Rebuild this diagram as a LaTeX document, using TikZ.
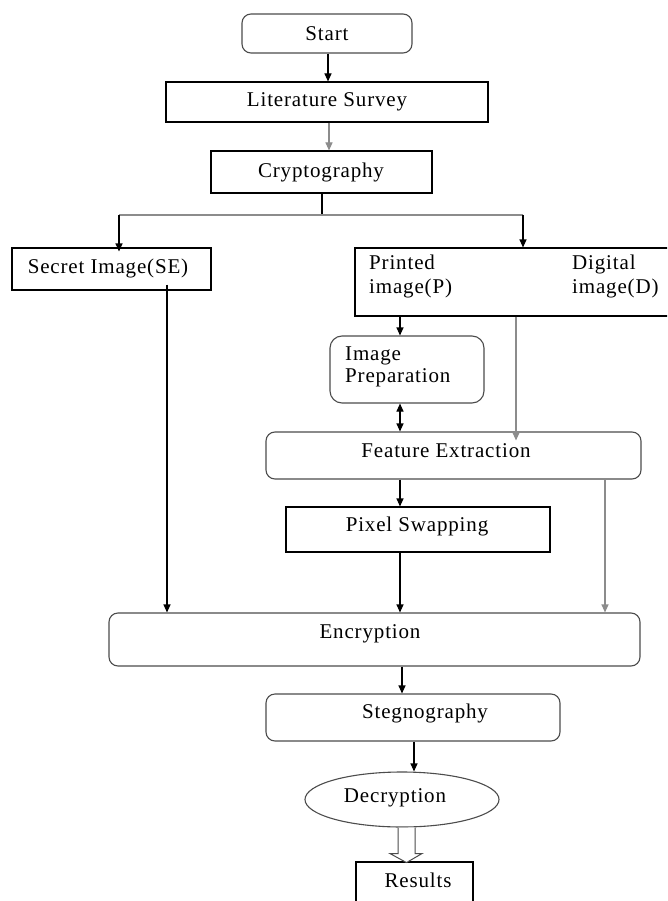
\documentclass[tikz,border=0pt]{standalone}
\usepackage{fontspec}
\setmainfont{Liberation Serif}[LetterSpace=4]
\usetikzlibrary{arrows.meta,shapes.geometric,calc}
\begin{document}
\begin{tikzpicture}[x=1pt,y=-1pt,
  font=\fontsize{21}{24}\selectfont,
  sbox/.style={draw=black, line width=1.1pt, inner sep=0pt},
  rbox/.style={draw=black!70, line width=1.1pt, inner sep=0pt, rounded corners=9pt},
  ebox/.style={draw=black!70, line width=1.1pt, inner sep=0pt, ellipse},
  lbl/.style={inner sep=0pt, anchor=center},
  lblw/.style={inner sep=0pt, anchor=west, align=left},
  arr/.style={-{Triangle[length=8pt,width=7pt]}, line width=1.1pt},
  garr/.style={arr, draw=black!45},
  darr/.style={{Triangle[length=8pt,width=7pt]}-{Triangle[length=8pt,width=7pt]}, line width=1.1pt},
  gline/.style={line width=1.1pt, draw=black!45},
  bline/.style={line width=1.1pt, draw=black},
  hollow/.style={line width=1pt, draw=black!70, fill=white}
]
\clip (0,0) rectangle (667,901);
\fill[white] (0,0) rectangle (667,901);

% boxes
\node[rbox, minimum width=170pt, minimum height=39pt] (start) at (327,33.5) {};
\node[sbox, minimum width=322pt, minimum height=40pt] (lit) at (327,102) {};
\node[sbox, minimum width=221pt, minimum height=42pt] (crypt) at (321.5,172) {};
\node[sbox, minimum width=199pt, minimum height=42pt] (secret) at (111.5,269) {};
\node[sbox, minimum width=325pt, minimum height=68pt] (printed) at (517.5,282) {};
\node[rbox, minimum width=154pt, minimum height=67pt, rounded corners=12pt] (prep) at (407,369.5) {};
\node[rbox, minimum width=375pt, minimum height=47pt] (feat) at (453.5,455.5) {};
\node[sbox, minimum width=264pt, minimum height=45pt] (pix) at (418,529.5) {};
\node[rbox, minimum width=531pt, minimum height=53pt] (enc) at (374.5,639.5) {};
\node[rbox, minimum width=294pt, minimum height=47pt] (steg) at (413,717.5) {};
\node[ebox, minimum width=194pt, minimum height=55pt] (dec) at (402,799.5) {};
\node[sbox, minimum width=117pt, minimum height=58pt] (res) at (414.5,891) {};

% labels
\node[lbl] (tstart) at (327,34) {Start};
\node[lbl] (tlit) at (327,102) {Literature Survey};
\node[lbl] (tcrypt) at (321,172) {Cryptography};
\node[lbl] (tsecret) at (108,268) {Secret Image(SE)};
\node[lblw] (tprint) at (369,276.5) {Printed\\image(P)};
\node[lblw] (tdig) at (572,276.5) {Digital\\image(D)};
\node[lblw, font=\fontsize{21}{22}\selectfont] (tprep) at (345,367) {Image\\Preparation};
\node[lbl] (tfeat) at (446,451) {Feature Extraction};
\node[lbl] (tpix) at (417,526) {Pixel Swapping};
\node[lbl] (tenc) at (370,634) {Encryption};
\node[lbl] (tsteg) at (425,713) {Stegnography};
\node[lbl] (tdec) at (395,798) {Decryption};
\node[lbl] (tres) at (418,880) {Results};

% helper x positions
\coordinate (xa) at (328,0);
\coordinate (xb) at (329,0);
\coordinate (xc) at (322,0);
\coordinate (xl) at (119,0);
\coordinate (xr) at (523,0);
\coordinate (xs) at (167,0);
\coordinate (xp) at (400,0);
\coordinate (xd) at (516,0);
\coordinate (xf) at (605,0);
\coordinate (xe) at (402,0);
\coordinate (xg) at (414,0);
\coordinate (bra) at (322,215);
\coordinate (brl) at (119,215);
\coordinate (brr) at (523,215);

% connectors
\draw[arr] (start.south -| xa) -- (lit.north -| xa);
\draw[garr] (lit.south -| xb) -- (crypt.north -| xb);
\draw[bline] (crypt.south -| xc) -- (bra);
\draw[gline] (brl) -- (brr);
\draw[arr] (brl) -- ([yshift=-4pt]secret.north -| xl);
\draw[arr] (brr) -- (printed.north -| xr);
\draw[arr] ([yshift=6pt]secret.south -| xs) -- (enc.north -| xs);
\draw[arr] (printed.south -| xp) -- (prep.north -| xp);
\draw[garr] (printed.south -| xd) -- ([yshift=-9pt]feat.north -| xd);
\draw[darr] (prep.south -| xp) -- (feat.north -| xp);
\draw[arr] (feat.south -| xp) -- (pix.north -| xp);
\draw[arr] (pix.south -| xp) -- (enc.north -| xp);
\draw[garr] (feat.south -| xf) -- (enc.north -| xf);
\draw[arr] (enc.south -| xe) -- (steg.north -| xe);
\draw[arr] (steg.south -| xg) -- (dec.north -| xg);
\draw[hollow] (dec.south) ++(-4,0) -- ++(0,26) -- ++(-8,0) -- ++(16.5,9) -- ++(15.5,-9) -- ++(-7,0) -- ++(0,-26);
\end{tikzpicture}
\end{document}
